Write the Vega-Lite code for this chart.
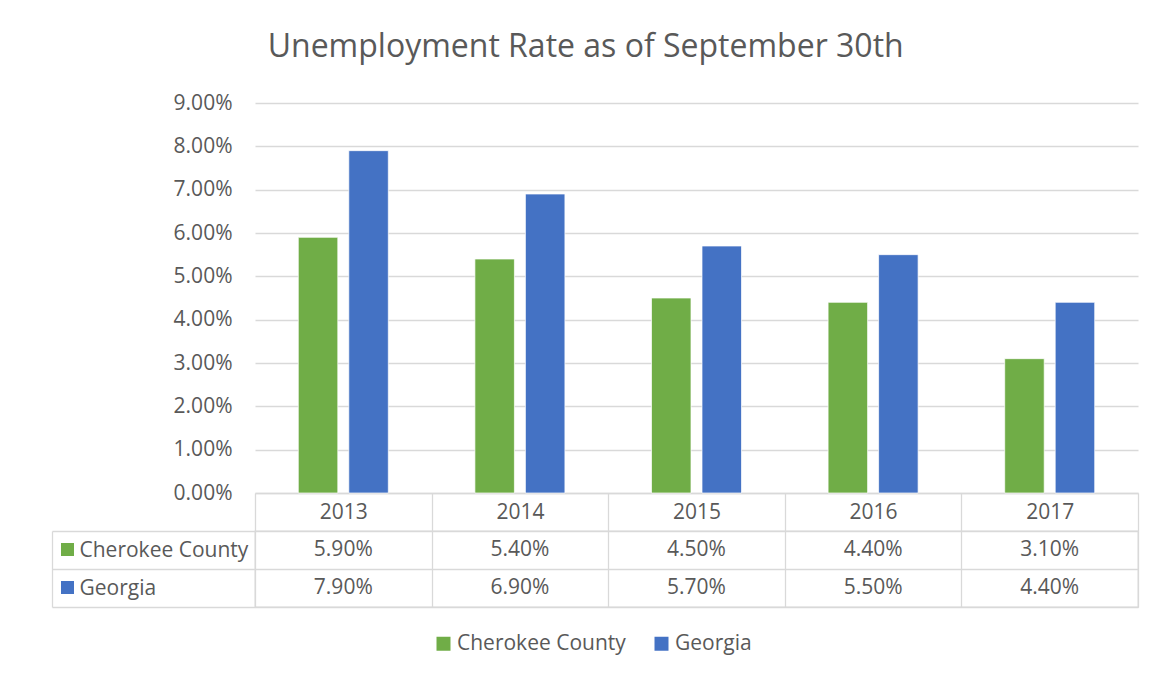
{
  "$schema": "https://vega.github.io/schema/vega-lite/v6.json",
  "padding": {"left": 50, "top": 31, "right": 10, "bottom": 5},
  "background": "white",
  "title": {"text": "Unemployment Rate as of September 30th", "fontSize": 32, "fontWeight": "normal", "color": "#595959", "font": "Open Sans", "anchor": "middle", "offset": 28, "dx": -9},
  "data": {"values": [
    {"year": "2013", "series": "Cherokee County", "value": 0.059},
    {"year": "2013", "series": "Georgia", "value": 0.079},
    {"year": "2014", "series": "Cherokee County", "value": 0.054},
    {"year": "2014", "series": "Georgia", "value": 0.069},
    {"year": "2015", "series": "Cherokee County", "value": 0.045},
    {"year": "2015", "series": "Georgia", "value": 0.057},
    {"year": "2016", "series": "Cherokee County", "value": 0.044},
    {"year": "2016", "series": "Georgia", "value": 0.055},
    {"year": "2017", "series": "Cherokee County", "value": 0.031},
    {"year": "2017", "series": "Georgia", "value": 0.044}
  ]},
  "spacing": 38,
  "bounds": "flush",
  "resolve": {"legend": {"color": "independent"}},
  "vconcat": [
    {
      "width": 883,
      "height": 390,
      "view": {"stroke": null},
      "mark": {"type": "bar", "stroke": "white", "strokeWidth": 1, "strokeOpacity": 0.7},
      "encoding": {
        "x": {"field": "year", "type": "nominal", "scale": {"type": "band", "paddingInner": 0, "paddingOuter": 0},
          "axis": {"title": null, "labelAngle": 0, "tickBand": "extent", "tickSize": 38, "tickColor": "#d9d9d9", "tickWidth": 1.3, "domainColor": "#d9d9d9", "domainWidth": 1.3, "labelPadding": -19, "labelBaseline": "middle", "labelFontSize": 21, "labelColor": "#595959", "labelFont": "Open Sans", "grid": false}},
        "xOffset": {"field": "series", "type": "nominal", "scale": {"paddingInner": 0.218, "paddingOuter": 0.857}},
        "y": {"field": "value", "type": "quantitative", "scale": {"domain": [0, 0.09], "nice": false},
          "axis": {"title": null, "format": ".2%", "values": [0, 0.01, 0.02, 0.03, 0.04, 0.05, 0.06, 0.07, 0.08, 0.09], "domain": false, "ticks": false, "labelPadding": 23, "labelFontSize": 21, "labelColor": "#595959", "labelFont": "Open Sans", "gridColor": "#d9d9d9", "gridWidth": 1.3}},
        "color": {"field": "series", "type": "nominal", "scale": {"domain": ["Cherokee County", "Georgia"], "range": ["#70AD47", "#4472C4"]},
          "legend": {"orient": "none", "direction": "horizontal", "legendX": 178, "legendY": 530, "title": null, "padding": 0, "symbolType": "square", "symbolSize": 196, "symbolStrokeWidth": 0, "symbolOpacity": 1, "labelFontSize": 21, "labelFont": "Open Sans", "labelColor": "#595959", "labelOffset": 3, "labelLimit": 400, "columnPadding": 25}}
      }
    },
    {
      "width": 883,
      "height": 76,
      "view": {"stroke": "#d9d9d9", "strokeWidth": 1.3},
      "layer": [
        {
          "mark": {"type": "text", "fontSize": 21, "font": "Open Sans", "color": "#595959"},
          "encoding": {
            "x": {"field": "year", "type": "nominal", "scale": {"type": "band", "paddingInner": 0, "paddingOuter": 0},
              "axis": {"title": null, "labels": false, "ticks": false, "domain": false, "grid": true, "tickBand": "extent", "gridColor": "#d9d9d9", "gridWidth": 1.3}},
            "y": {"field": "series", "type": "nominal", "scale": {"type": "band", "paddingInner": 0, "paddingOuter": 0},
              "axis": {"title": null, "orient": "left", "offset": 203, "domainColor": "#d9d9d9", "domainWidth": 1.3, "tickColor": "#d9d9d9", "tickWidth": 1.3, "tickSize": -203, "tickBand": "extent", "labelAlign": "left", "labelPadding": 176, "labelFontSize": 21, "labelFont": "Open Sans", "labelColor": "#595959", "labelLimit": 400, "grid": true, "gridColor": "#d9d9d9", "gridWidth": 1.3}},
            "text": {"field": "value", "type": "quantitative", "format": ".2%"}
          }
        },
        {
          "mark": {"type": "square", "opacity": 0},
          "encoding": {
            "y": {"field": "series", "type": "nominal"},
            "color": {"field": "series", "type": "nominal",
              "legend": {"orient": "none", "direction": "vertical", "legendX": -194, "legendY": 12, "title": null, "padding": 0, "symbolType": "square", "symbolSize": 169, "symbolStrokeWidth": 0, "symbolOpacity": 1, "labelExpr": "''", "rowPadding": 25}}
          }
        }
      ]
    }
  ]
}
